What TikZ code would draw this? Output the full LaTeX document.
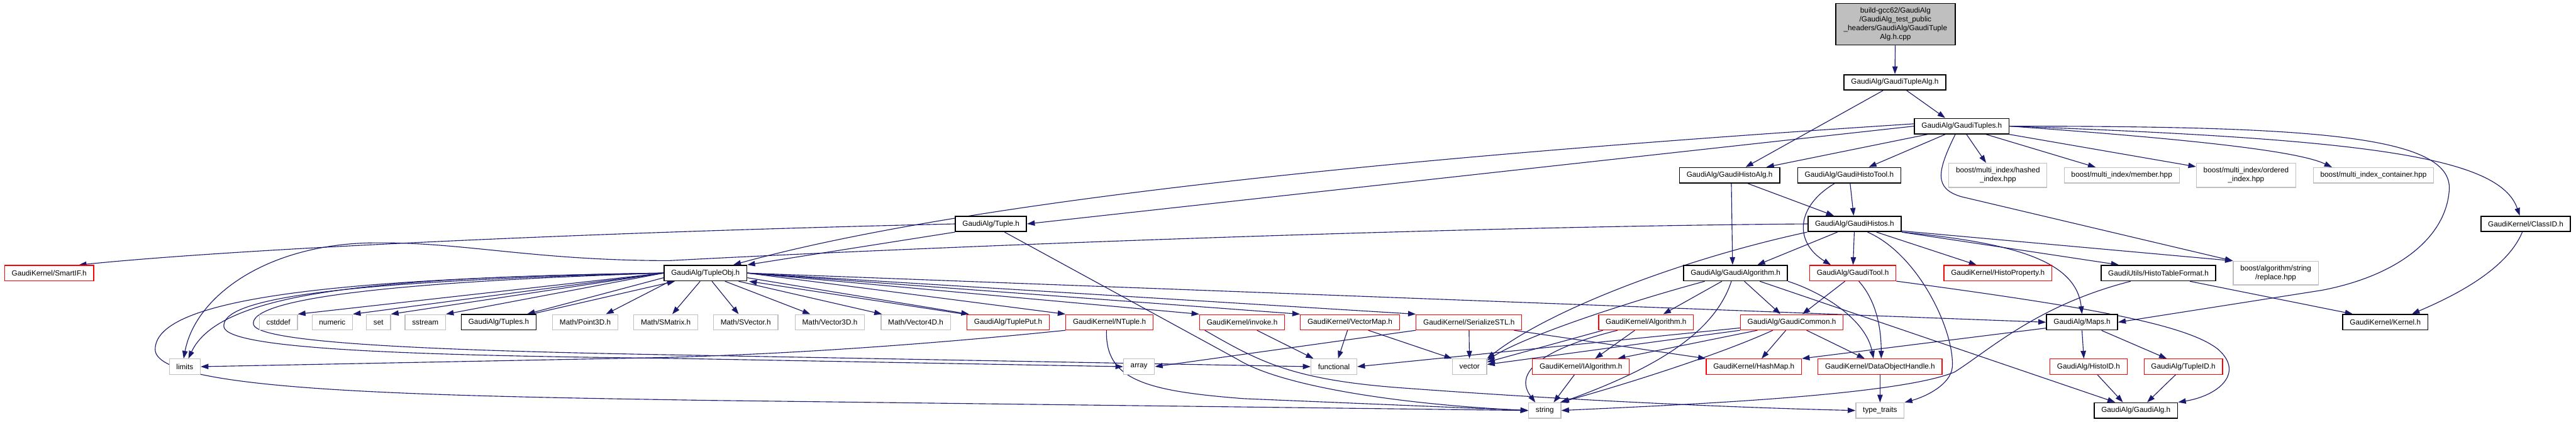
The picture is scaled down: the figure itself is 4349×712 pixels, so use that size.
\documentclass[tikz,border=0pt]{standalone}
\usepackage{fontspec}
\setmainfont{Liberation Sans}
\usepackage{tikz}
\usetikzlibrary{arrows.meta}
\definecolor{Dox_Edge}{HTML}{191970}
\definecolor{Dox_Red}{HTML}{FF0000}
\definecolor{Dox_Grey}{HTML}{BFBFBF}
\pgfdeclarelayer{bg}
\pgfdeclarelayer{edges}
\pgfsetlayers{bg,edges,main}

\begin{document}
\begin{tikzpicture}[x=1pt, y=-1pt,
    file/.style={rectangle, fill=white, inner xsep=12pt, inner ysep=0pt, minimum height=26pt, font=\fontsize{12.5}{15}\selectfont, line width=1.3pt},
    docfile/.style={file, draw=black, line width=1.8pt},
    redfile/.style={file, draw=Dox_Red},
    sysfile/.style={file, draw=Dox_Grey},
    dep/.style={Dox_Edge, line width=1.2pt, -{Triangle[length=13pt, width=9pt]}}]
    \useasboundingbox (0,0) rectangle (4349,712);
    \begin{pgfonlayer}{bg}
        \fill[white] (0,0) rectangle (4349,712);
    \end{pgfonlayer}
    % Source file and first levels
    \node[docfile, fill=Dox_Grey, minimum width=202pt, minimum height=70pt, align=center] (root) at (3200,41) {build-gcc62/GaudiAlg\\/GaudiAlg\_test\_public\\\_headers/GaudiAlg/GaudiTuple\\Alg.h.cpp};
    \node[docfile] (tuplealg) at (3199,139) {GaudiAlg/GaudiTupleAlg.h};
    \node[docfile] (tuples) at (3312,213) {GaudiAlg/GaudiTuples.h};
    \node[docfile] (histoalg) at (2920,296) {GaudiAlg/GaudiHistoAlg.h};
    \node[docfile] (histotool) at (3122,296) {GaudiAlg/GaudiHistoTool.h};
    \node[sysfile, minimum height=41pt, align=center] (hashed) at (3373,296) {boost/multi\_index/hashed\\\_index.hpp};
    \node[sysfile] (member) at (3582,296) {boost/multi\_index/member.hpp};
    \node[sysfile, minimum height=41pt, align=center] (ordered) at (3792,296) {boost/multi\_index/ordered\\\_index.hpp};
    \node[sysfile] (container) at (4007,296) {boost/multi\_index\_container.hpp};
    \node[docfile] (tuple) at (1673,378) {GaudiAlg/Tuple.h};
    \node[docfile] (histos) at (3131,378) {GaudiAlg/GaudiHistos.h};
    \node[docfile] (classid) at (4264,378) {GaudiKernel/ClassID.h};
    % Row of TupleObj.h
    \node[redfile] (smartif) at (83,461) {GaudiKernel/SmartIF.h};
    \node[docfile] (tupleobj) at (1191,461) {GaudiAlg/TupleObj.h};
    \node[docfile] (gaudialgorithm) at (2930,461) {GaudiAlg/GaudiAlgorithm.h};
    \node[redfile] (gauditool) at (3128,461) {GaudiAlg/GaudiTool.h};
    \node[redfile] (histoprop) at (3373,461) {GaudiKernel/HistoProperty.h};
    \node[docfile] (histotable) at (3644,461) {GaudiUtils/HistoTableFormat.h};
    \node[sysfile, minimum height=40pt, align=center] (replace) at (3842,461) {boost/algorithm/string\\/replace.hpp};
    % Middle row
    \node[sysfile] (cstddef) at (470,544) {cstddef};
    \node[sysfile] (numeric) at (561,544) {numeric};
    \node[sysfile] (set) at (639,544) {set};
    \node[sysfile] (sstream) at (718,544) {sstream};
    \node[docfile] (tuplesh) at (842,544) {GaudiAlg/Tuples.h};
    \node[sysfile] (point3d) at (988,544) {Math/Point3D.h};
    \node[sysfile] (smatrix) at (1124,544) {Math/SMatrix.h};
    \node[sysfile] (svector) at (1259,544) {Math/SVector.h};
    \node[sysfile] (vector3d) at (1401,544) {Math/Vector3D.h};
    \node[sysfile] (vector4d) at (1546,544) {Math/Vector4D.h};
    \node[redfile] (tupleput) at (1702,544) {GaudiAlg/TuplePut.h};
    \node[redfile] (ntuple) at (1873,544) {GaudiKernel/NTuple.h};
    \node[redfile] (invoke) at (2097,544) {GaudiKernel/invoke.h};
    \node[redfile] (vectormap) at (2279,544) {GaudiKernel/VectorMap.h};
    \node[redfile] (serialize) at (2480,544) {GaudiKernel/SerializeSTL.h};
    \node[redfile] (algorithm) at (2779,544) {GaudiKernel/Algorithm.h};
    \node[redfile] (common) at (3025,544) {GaudiAlg/GaudiCommon.h};
    \node[docfile] (maps) at (3515,544) {GaudiAlg/Maps.h};
    \node[docfile] (kernel) at (4027,544) {GaudiKernel/Kernel.h};
    % Lower rows
    \node[sysfile] (limits) at (312,619) {limits};
    \node[sysfile] (array) at (1923,619) {array};
    \node[sysfile] (functional) at (2252,619) {functional};
    \node[sysfile] (vector) at (2481,619) {vector};
    \node[redfile] (ialgorithm) at (2669,619) {GaudiKernel/IAlgorithm.h};
    \node[redfile] (hashmap) at (2961,619) {GaudiKernel/HashMap.h};
    \node[redfile] (dataobj) at (3174,619) {GaudiKernel/DataObjectHandle.h};
    \node[redfile] (histoid) at (3526,619) {GaudiAlg/HistoID.h};
    \node[redfile] (tupleid) at (3686,619) {GaudiAlg/TupleID.h};
    \node[sysfile] (string) at (2608,693) {string};
    \node[sysfile] (typetraits) at (3174,693) {type\_traits};
    \node[docfile] (gaudialg) at (3606,693) {GaudiAlg/GaudiAlg.h};

    \begin{pgfonlayer}{edges}
    % Source file and GaudiTupleAlg.h
    \draw[dep] (root) -- (tuplealg);
    \draw[dep] ([xshift=20pt]tuplealg.south) -- ([xshift=-28pt]tuples.north);
    \draw[dep] ([xshift=-20pt]tuplealg.south) -- ([xshift=27pt]histoalg.north);
    % GaudiTuples.h
    \draw[dep] ([xshift=-58pt]tuples.south) -- ([xshift=62pt]histoalg.north);
    \draw[dep] ([xshift=-28pt]tuples.south) -- ([xshift=33pt]histotool.north);
    \draw[dep] ([xshift=8pt]tuples.south) -- ([xshift=-20pt]hashed.north);
    \draw[dep] ([xshift=41pt]tuples.south) -- ([xshift=-44pt]member.north);
    \draw[dep] (tuples) -- (ordered);
    \draw[dep] (tuples.east) .. controls (3700,235) and (3880,255) .. ([xshift=-70pt]container.north);
    \draw[dep] (tuples.east) .. controls (4000,235) and (4220,265) .. ([xshift=-10pt]classid.north);
    \draw[dep] (tuples.east) .. controls (3900,213) and (4140,228) .. (4135,320) .. controls (4130,400) and (4050,465) .. (3920,490) -- (maps.east);
    \draw[dep] ([xshift=-11pt]tuples.south) .. controls (3270,290) and (3265,318) .. (3311,332) -- (replace.north west);
    \draw[dep] (tuples.west) -- (tuple.east);
    \draw[dep] ([yshift=4pt]tuples.west) .. controls (2600,250) and (1700,320) .. ([xshift=47pt]tupleobj.north);
    % GaudiHistoAlg.h and GaudiHistoTool.h
    \draw[dep] ([xshift=31pt]histoalg.south) -- ([xshift=-35pt]histos.north);
    \draw[dep] ([xshift=3pt]histoalg.south) -- ([xshift=-5pt]gaudialgorithm.north);
    \draw[dep] (histotool) -- (histos);
    \draw[dep] ([xshift=-25pt]histotool.south) .. controls (3030,350) and (3030,410) .. ([xshift=-37pt]gauditool.north);
    % Tuple.h
    \draw[dep] (tuple.south west) -- (tupleobj.north east);
    \draw[dep] (tuple.west) .. controls (1000,392) and (400,420) .. ([xshift=50pt]smartif.north);
    \draw[dep] ([xshift=23pt]tuple.south) -- (2090,607) .. controls (2160,650) and (2350,682) .. (string.west);
    % TupleObj.h
    \draw[dep] (tupleobj.west) -- (cstddef.north east);
    \draw[dep] (tupleobj.west) -- (numeric.north east);
    \draw[dep] (tupleobj.west) -- (set.north east);
    \draw[dep] (tupleobj.west) -- (sstream.north east);
    \draw[dep] ([yshift=6pt]tupleobj.south west) -- ([xshift=-16pt]tuplesh.north east);
    \draw[dep] ([xshift=-8pt]tuplesh.north east) -- ([xshift=19pt]tupleobj.south west);
    \draw[dep] ([xshift=-60pt]tupleobj.south) -- ([xshift=35pt]point3d.north);
    \draw[dep] ([xshift=-9pt]tupleobj.south) -- ([xshift=11pt]smatrix.north);
    \draw[dep] ([xshift=11pt]tupleobj.south) -- ([xshift=-12pt]svector.north);
    \draw[dep] ([xshift=33pt]tupleobj.south) -- ([xshift=-33pt]vector3d.north);
    \draw[dep] ([xshift=56pt]tupleobj.south) -- ([xshift=-57pt]vector4d.north);
    \draw[dep] ([yshift=6pt]tupleobj.south east) -- ([xshift=4pt]tupleput.north west);
    \draw[dep] ([xshift=-4pt]tupleput.north west) -- ([xshift=3pt]tupleobj.south east);
    \draw[dep] (tupleobj.east) -- (ntuple.north west);
    \draw[dep] (tupleobj.east) -- (invoke.north west);
    \draw[dep] (tupleobj.east) -- (vectormap.north west);
    \draw[dep] (tupleobj.east) -- (serialize.north west);
    \draw[dep] (tupleobj.east) -- (maps.west);
    \draw[dep] (tupleobj.west) .. controls (620,468) and (370,495) .. ([xshift=6pt]limits.north);
    \draw[dep] (tupleobj.west) .. controls (520,470) and (262,510) .. (262,590) .. controls (262,660) and (700,668) .. (1200,676) -- (string.west);
    \draw[dep] (tupleobj.west) .. controls (560,475) and (372,505) .. (378,552) .. controls (385,590) and (700,600) .. (1130,605) -- (array.west);
    \draw[dep] (tupleobj.west) .. controls (600,478) and (420,510) .. (428,548) .. controls (436,580) and (750,592) .. (1130,599) -- (functional.west);
    % NTuple.h
    \draw[dep] (ntuple.south west) .. controls (1600,578) and (1350,598) .. (1100,604) -- (limits.east);
    \draw[dep] ([xshift=-5pt]ntuple.south) .. controls (1866,640) and (1930,660) .. (2100,673) -- (string.west);
    % GaudiHistos.h
    \draw[dep] (histos.west) .. controls (2400,383) and (1500,420) .. (1130,440) .. controls (900,440) and (780,408) .. (630,410) .. controls (450,412) and (330,500) .. ([xshift=-2pt]limits.north);
    \draw[dep] ([xshift=-80pt]histos.south) .. controls (2850,435) and (2620,520) .. (vector.north east);
    \draw[dep] ([xshift=-29pt]histos.south) -- ([xshift=37pt]gaudialgorithm.north);
    \draw[dep] (histos) -- (gauditool);
    \draw[dep] ([xshift=37pt]histos.south) -- ([xshift=-36pt]histoprop.north);
    \draw[dep] ([xshift=22pt]histos.south) .. controls (3240,430) and (3300,560) .. (3296,620) .. controls (3293,650) and (3250,670) .. (typetraits.north east);
    \draw[dep] (histos.south east) -- ([xshift=-67pt]histotable.north);
    \draw[dep] (histos.south east) .. controls (3400,410) and (3505,440) .. (maps.north);
    \draw[dep] ([yshift=2pt]histos.south east) -- (replace.north west);
    % GaudiAlgorithm.h
    \draw[dep] ([xshift=-52pt]gaudialgorithm.south) .. controls (2730,515) and (2570,570) .. ([yshift=-3pt]vector.north east);
    \draw[dep] ([xshift=-23pt]gaudialgorithm.south) -- ([xshift=29pt]algorithm.north);
    \draw[dep] ([xshift=-7pt]gaudialgorithm.south) .. controls (2895,560) and (2800,620) .. (string.north east);
    \draw[dep] ([xshift=15pt]gaudialgorithm.south) -- ([xshift=-19pt]common.north);
    \draw[dep] (gaudialgorithm.south east) .. controls (3080,495) and (3150,540) .. ([xshift=-11pt]dataobj.north);
    \draw[dep] ([xshift=41pt]gaudialgorithm.south) -- ([xshift=-35pt]gaudialg.north);
    % GaudiTool.h
    \draw[dep] ([xshift=-13pt]gauditool.south) -- ([xshift=18pt]common.north);
    \draw[dep] ([xshift=10pt]gauditool.south) .. controls (3170,510) and (3176,560) .. ([xshift=2pt]dataobj.north);
    \draw[dep] (gauditool.south east) .. controls (3500,515) and (3690,545) .. (3745,590) .. controls (3790,630) and (3745,668) .. (gaudialg.north east);
    % GaudiKernel/Algorithm.h
    \draw[dep] ([xshift=8pt]algorithm.south west) -- ([yshift=-6pt]vector.north east);
    \draw[dep] ([xshift=-48pt]algorithm.south) .. controls (2600,590) and (2555,630) .. ([xshift=-16pt]string.north);
    \draw[dep] ([xshift=-19pt]algorithm.south) -- ([xshift=24pt]ialgorithm.north);
    % GaudiCommon.h
    \draw[dep] ([yshift=4pt]common.south west) -- (functional.east);
    \draw[dep] (common.south west) -- ([yshift=-10pt]vector.north east);
    \draw[dep] ([xshift=-58pt]common.south) -- ([xshift=62pt]ialgorithm.north);
    \draw[dep] ([xshift=-32pt]common.south) .. controls (2900,600) and (2740,650) .. ([xshift=-2pt]string.north east);
    \draw[dep] ([xshift=-10pt]common.south) -- ([xshift=13pt]hashmap.north);
    \draw[dep] ([xshift=25pt]common.south) -- ([xshift=-26pt]dataobj.north);
    % Maps.h, HistoTableFormat.h, ClassID.h
    \draw[dep] (maps.south) -- ([xshift=-8pt]histoid.north);
    \draw[dep] ([xshift=33pt]maps.south) -- ([xshift=-28pt]tupleid.north);
    \draw[dep] ([yshift=4pt]maps.south west) -- (hashmap.north east);
    \draw[dep] ([xshift=15pt]histoid.south) -- ([xshift=-22pt]gaudialg.north);
    \draw[dep] ([xshift=-13pt]tupleid.south) -- ([xshift=19pt]gaudialg.north);
    \draw[dep] ([xshift=53pt]histotable.south) -- ([xshift=-55pt]kernel.north);
    \draw[dep] ([xshift=-47pt]histotable.south) .. controls (3440,515) and (3360,590) .. (3300,628) .. controls (3200,670) and (2800,685) .. (string.east);
    \draw[dep] (classid) .. controls (4230,460) and (4130,505) .. ([xshift=45pt]kernel.north);
    % Leaf headers
    \draw[dep] (dataobj) -- (typetraits);
    \draw[dep] ([xshift=-11pt]ialgorithm.south) -- ([xshift=15pt]string.north);
    \draw[dep] ([xshift=-4pt]vectormap.south) -- ([xshift=7pt]functional.north);
    \draw[dep] ([xshift=31pt]vectormap.south) -- (vector.north west);
    \draw[dep] (serialize) -- (vector);
    \draw[dep] (serialize.south west) -- (array.east);
    \draw[dep] ([xshift=76pt]serialize.south) -- (hashmap.north west);
    \draw[dep] ([xshift=25pt]invoke.south) -- ([xshift=5pt]functional.north west);
    \draw[dep] ([xshift=-63pt]invoke.south) .. controls (2125,610) and (2180,640) .. (2355,654) .. controls (2700,680) and (3000,690) .. (typetraits.west);
    \end{pgfonlayer}
\end{tikzpicture}
\end{document}
